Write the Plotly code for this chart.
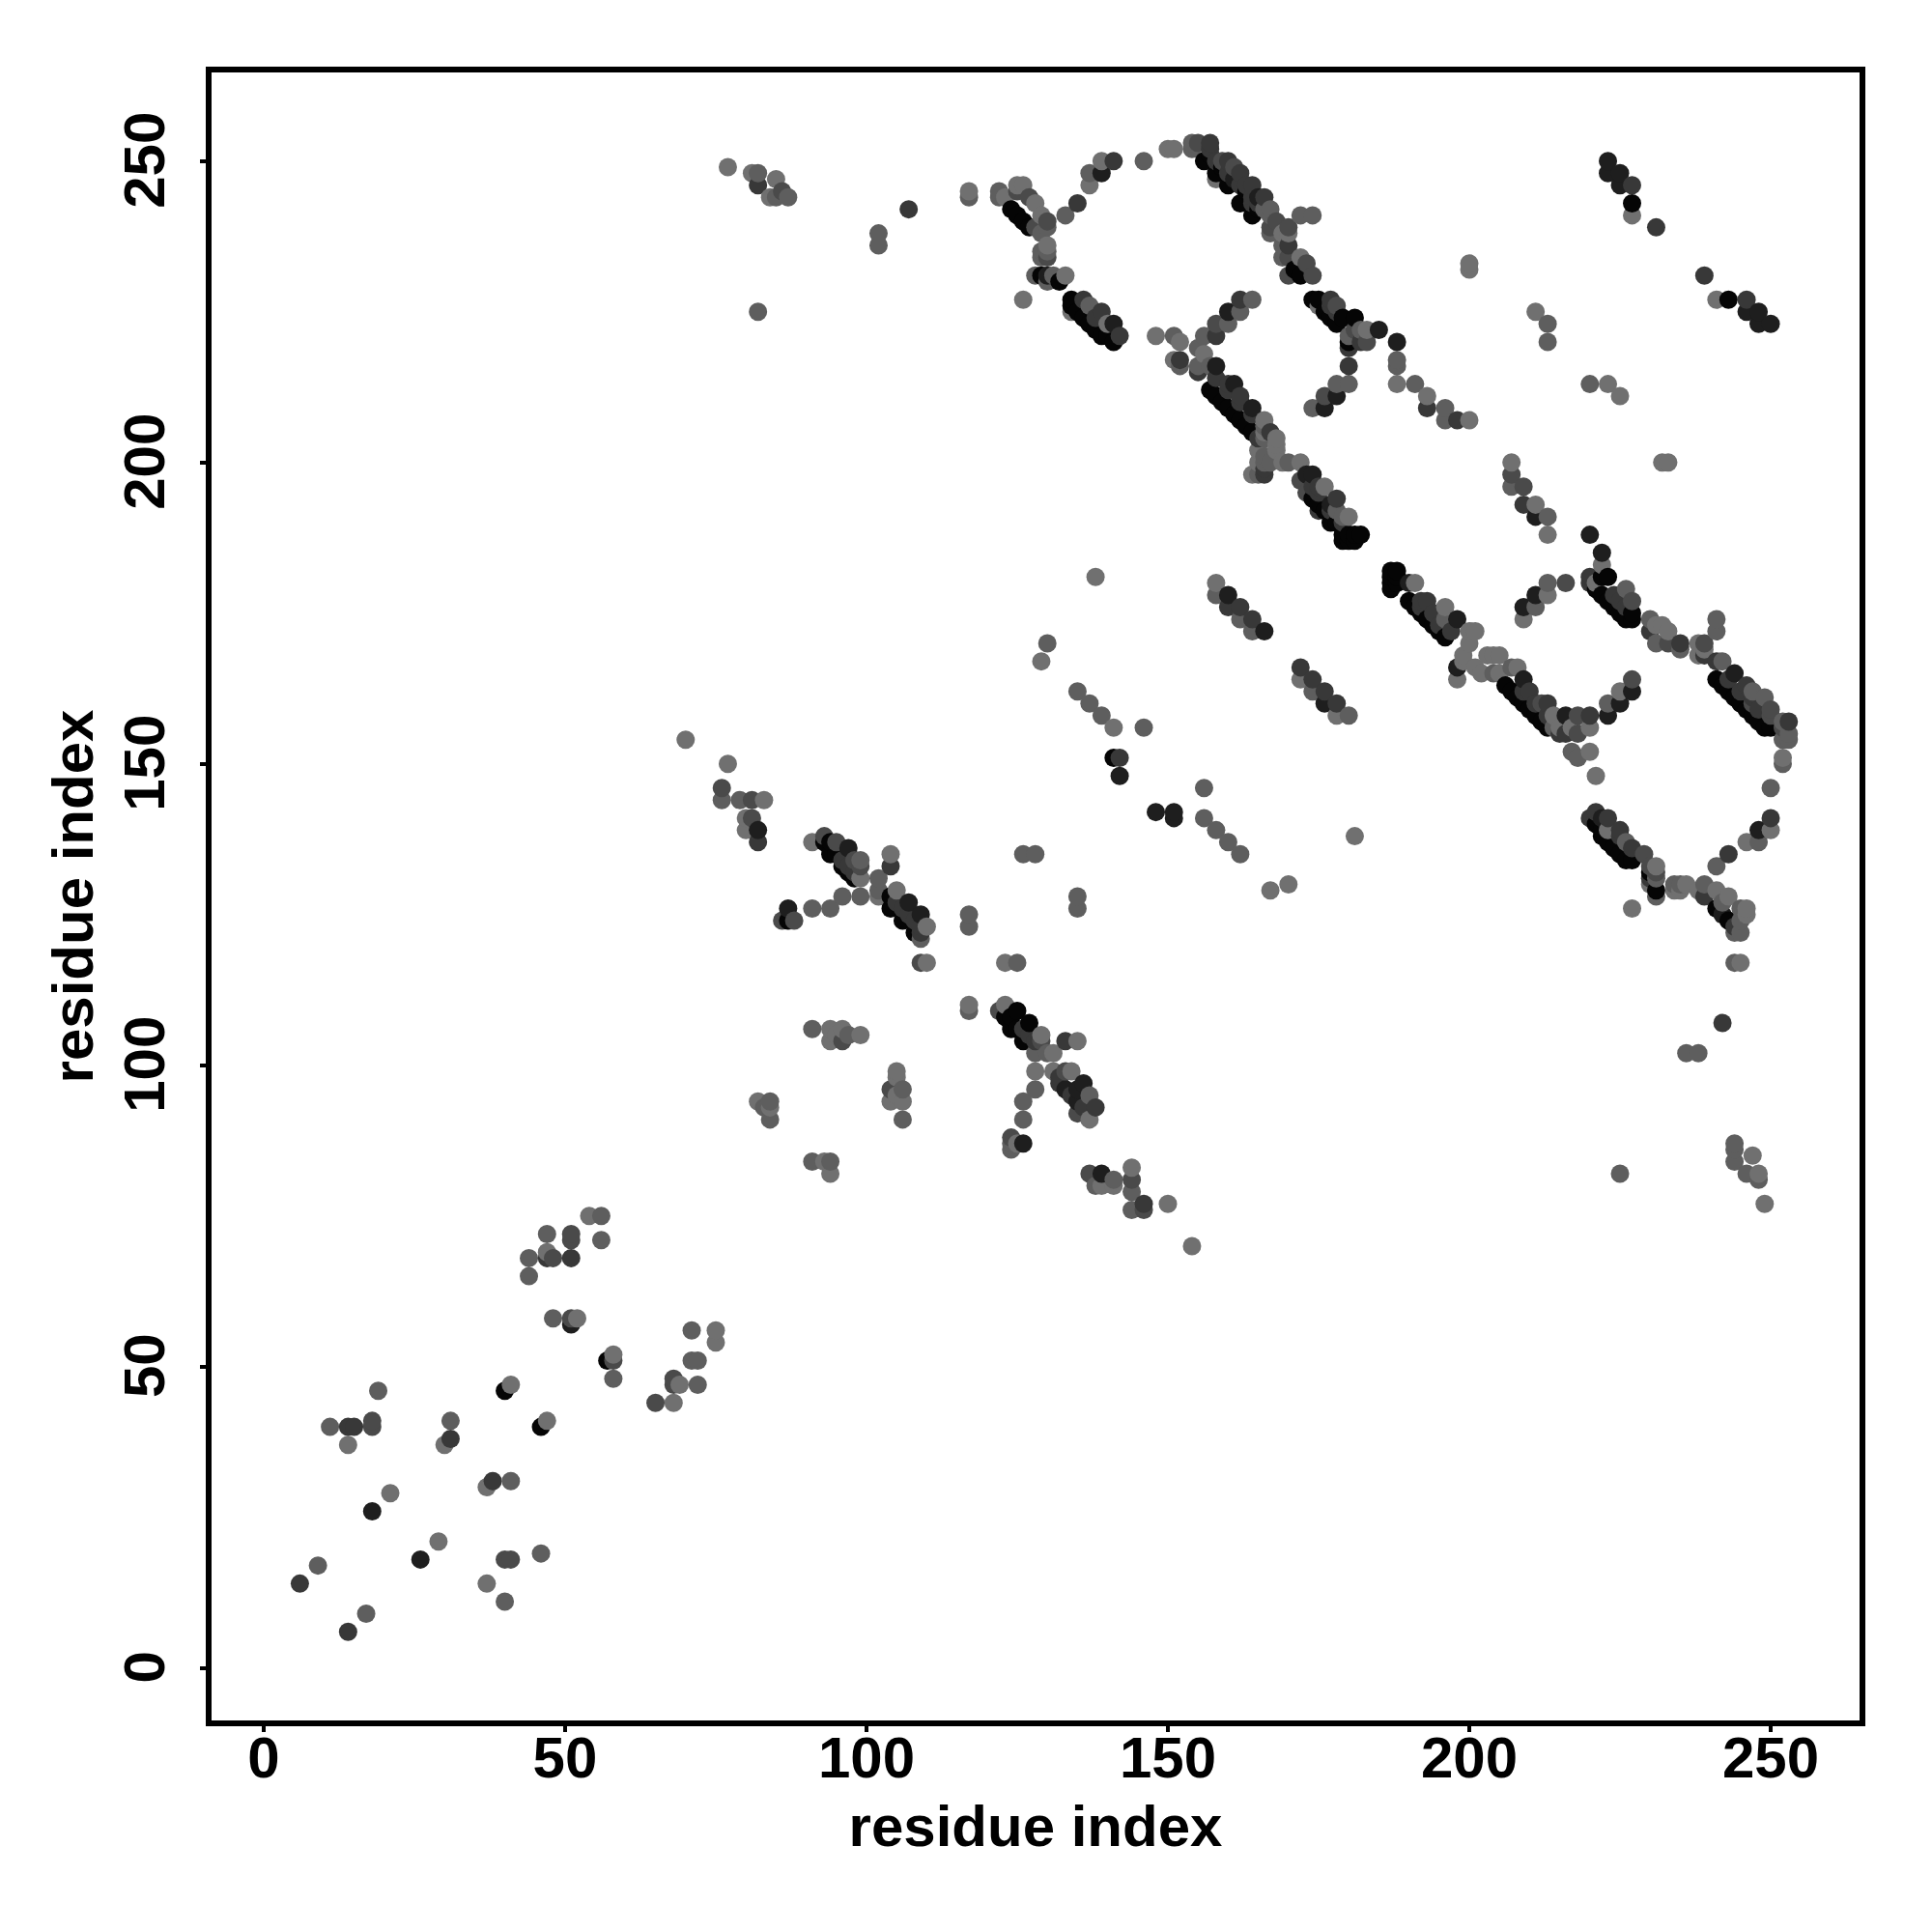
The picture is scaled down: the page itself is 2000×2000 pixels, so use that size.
import plotly.graph_objects as go

tick_values = [0, 50, 100, 150, 200, 250]
axis_label = "residue index"

light = [(37,14),(29,21),(21,29),(37,30),(30,37),(14,37),(54,75),(47,69),(75,56),(75,54),(69,47),(68,44),(47,41),(41,47),(58,52),(52,58),
(70,154),(77,150),(83,144),(80,141),(80,139),(91,137),(104,135),(99,131),(102,128),(110,123),(105,129),(110,117),(117,110),(123,117),(123,110),(129,105),(135,104),(131,99),(131,102),(94,106),(96,106),(99,105),(94,104),(95,105),(105,99),(105,98),(104,94),(106,94),(105,95),(82,94),(84,93),(93,84),(94,82),(125,87),(128,99),(137,91),(134,99),(139,80),(141,80),(144,83),(150,77),(154,70),
(77,249),(81,248),(85,247),(84,244),(117,245),(123,244),(125,246),(126,246),(128,243),(129,241),(130,236),(133,231),(126,227),(134,225),(140,223),(148,221),(137,246),(139,250),(151,252),(150,252),
(158,247),(169,238),(170,238),(172,234),(183,222),(175,226),(188,213),(152,220),(151,217),(156,218),(166,207),(168,204),(166,205),(168,203),(168,202),(165,202),(164,198),(169,200),(172,200),(165,200),(176,196),(180,191),(158,180),(191,180),(196,176),(200,172),(201,172),(200,170),(199,168),(198,164),(203,168),(204,168),(205,168),(202,165),(201,166),(199,167),(205,165),(208,166),(207,200),(193,211),(200,207),(211,193),(213,188),(214,158),(215,156),(217,156),(220,156),(225,162),(222,183),(213,178),(209,174),(221,180),(232,173),(231,173),(233,172),(238,170),(238,168),(239,169),(252,151),(250,139),(246,137),(223,139),(220,152),(221,148),(231,133),(230,130),(236,130),(235,129),(234,129),(238,129),(241,129),(243,128),(246,126),(246,125),(245,117),(227,126),(227,241),(241,227),(211,225),(223,213),(225,211),(232,200),(233,200),(200,233),(200,232),(138,181),(129,167),(141,156),(167,129),(170,130),(181,138),(172,164),(178,158),(247,85),(248,82),(249,77)]

mid = [(17,9),(9,17),(40,11),(41,31),(31,41),(11,40),(19,46),(58,48),(56,71),(56,75),(47,72),(44,68),(44,65),(48,58),(71,56),(46,19),(72,47),(71,51),(72,51),
(76,144),(79,144),(102,131),(96,128),(99,128),(94,126),(91,126),(102,129),(99,134),(109,121),(117,125),(117,123),(126,135),(128,135),(135,128),(135,126),(125,117),(117,109),(128,102),(130,102),(128,96),(126,94),(126,91),(124,87),(124,86),(91,106),(97,105),(106,96),(106,91),(84,94),(84,91),(83,93),(91,84),(94,84),(137,95),(141,81),(144,79),(144,76),(138,80),
(82,248),(85,244),(87,244),(102,238),(102,236),(82,225),(117,244),(122,245),(122,244),(130,239),(129,238),(129,235),(130,235),(129,234),(128,231),(131,231),(130,230),(133,241),(137,248),(146,250),(137,226),(154,253),(154,252),(167,242),(167,241),(166,242),(167,238),(172,241),(174,241),(169,236),(169,234),(180,221),(182,222),(188,217),(188,216),(178,213),(180,213),(174,209),(151,221),(152,216),(164,227),(162,225),(160,223),(156,221),(155,219),(155,216),(157,216),(166,206),(166,204),(166,201),(166,200),(165,198),(170,200),(167,200),(178,192),(179,191),(191,213),(196,209),(196,207),(207,196),(213,191),(211,176),(213,180),(196,174),(207,166),(204,165),(214,156),(217,152),(218,151),(223,160),(248,137),(250,146),(241,133),(226,179),(226,137),(230,174),(231,170),(235,169),(241,174),(241,172),(242,167),(247,162),(249,161),(252,157),(253,155),(252,154),(253,154),(252,150),(231,131),(231,128),(234,130),(235,130),(239,130),(242,127),(245,126),(245,124),(245,122),(244,122),(244,117),(213,223),(213,220),(220,213),(236,102),(238,102),(225,82),(244,87),(244,86),(244,84),(246,82),(248,81),(130,170),(135,162),(137,160),(139,158),(146,156),(156,146),(156,141),(158,139),(160,137),(162,135),(158,178),(162,174),(164,172),(174,162),(180,158)]

mid_dark = [(40,18),(41,18),(18,41),(18,40),(48,68),(51,72),(51,71),(58,51),(51,58),(65,44),(68,48),(68,47),(122,109),(76,146),(81,144),(81,141),(93,138),(95,137),(99,133),(129,104),(133,99),(96,104),(104,96),(124,88),(88,124),(86,124),(109,117),(137,82),(144,81),(146,76),(86,245),(128,239),(130,234),(155,253),(159,250),(161,249),(167,239),(170,239),(170,234),(170,231),(173,233),(174,231),(178,226),(176,211),(158,223),(172,197),(173,195),(207,198),(209,196),(216,180),(218,155),(227,164),(239,170),(233,170),(250,159),(227,177),(230,133),
(98,134),(135,92),(125,245),(127,244),(130,240),(168,240),(181,222),(183,220),(247,160),(250,158),(252,156),(229,135),(231,132),(212,160),(218,158)]

dark = [(14,6),(6,14),(38,31),(31,38),(14,40),(15,40),(47,68),(51,68),(82,137),(104,133),(133,104),(138,93),(109,122),(107,242),(82,246),(135,243),(142,221),(141,250),(136,227),(139,225),(138,224),(163,246),(157,253),(157,252),(170,236),(177,227),(177,226),(180,216),(180,219),(182,220),(178,225),(152,217),(162,227),(158,221),(155,215),(160,213),(162,211),(165,204),(166,199),(166,198),(175,192),(174,196),(175,195),(193,177),(192,177),(192,176),(195,173),(198,207),(193,209),(209,193),(160,176),(162,176),(164,174),(172,166),(174,164),(176,162),(178,160),(146,77),(142,151),(220,158),(220,180),(220,181),(210,162),(213,160),(215,155),(216,155),(223,141),(220,141),(221,142),(225,139),(225,138),(227,136),(235,170),(230,172),(194,175),(197,172),(239,168),(241,167),(246,163),(253,157),(250,141),(243,135),(239,128),(226,176),(230,131),(242,107),(244,123),(227,246),(231,239),(239,231),(246,227),(105,127),(106,126),(107,125),(108,124),(109,123),(136,93),(134,95),(132,97),(126,106),(127,105),(128,104),
(96,134),(97,133),(98,132),(158,250),(160,248),(162,246),(164,244),(158,214),(160,212),(162,210),(164,208),(177,192),(179,190),(209,162),(211,160),(213,158),(243,164),(245,162),(247,161),(248,159),(224,178),(225,177),
(160,250),(162,248),(164,246),(166,244),(165,243),(164,243),(132,98),(167,205),(175,196),(178,194)]

very_dark = [(26,18),(18,26),(51,57),(82,139),(97,136),(107,127),(109,125),(126,87),(136,97),(133,96),(135,94),(135,96),(139,82),(142,148),(141,223),(139,248),(165,244),(164,209),(158,216),(161,213),(178,211),(176,209),(160,225),(185,222),(188,220),(173,198),(174,198),(177,193),(211,191),(209,176),(211,178),(190,180),(160,178),(166,172),(176,160),(198,174),(198,166),(209,164),(216,158),(222,185),(220,188),(223,158),(225,160),(227,162),(244,165),(248,139),(222,141),(242,125),(223,248),(225,248),(225,246),(223,250),(248,225),(246,225),(248,223),(250,223),(151,141),(148,142),(151,142),(87,126),(130,231),(161,247)]

black = [(46,40),(40,46),(57,51),(94,137),(93,137),(94,135),(95,135),(96,133),(97,132),(98,131),(104,128),(104,126),(106,124),(108,122),(87,124),(125,109),(127,107),(123,108),(124,108),(124,106),(125,106),(126,104),(141,151),(124,242),(125,241),(126,240),(127,239),(132,230),(129,231),(134,227),(134,226),(135,225),(136,224),(137,223),(138,222),(139,221),(140,221),(141,220),(156,250),(158,248),(160,246),(162,243),(164,241),(157,251),(159,249),(163,245),(165,242),(172,231),(171,232),(174,227),(175,227),(176,225),(178,223),(179,224),(181,224),(180,220),(177,224),(157,212),(158,211),(159,210),(160,209),(161,208),(162,207),(163,206),(164,205),(177,190),(178,190),(179,188),(180,187),(179,187),(181,187),(182,188),(181,188),(180,188),(175,193),(176,192),(174,194),(187,182),(188,182),(187,181),(187,180),(187,179),(188,181),(188,180),(190,177),(191,176),(192,175),(193,174),(194,173),(195,172),(196,171),(206,163),(207,162),(208,161),(209,160),(210,159),(211,158),(212,157),(213,156),(241,164),(242,163),(243,162),(244,161),(245,160),(246,159),(247,158),(248,157),(249,156),(250,156),(222,181),(223,181),(222,178),(221,179),(223,177),(224,176),(225,175),(226,174),(227,174),(227,175),(221,140),(222,139),(222,138),(223,137),(224,136),(225,135),(226,134),(227,134),(227,243),(243,227),(230,132),(231,129),(241,126),(243,124)]

tones = [("#707070", light), ("#5e5e5e", mid), ("#4a4a4a", mid_dark), ("#383838", dark), ("#1e1e1e", very_dark), ("#050505", black)]

points = []
for colour, group in tones:
    for x, y in group:
        points.append((x, y, colour))
points.sort(key=lambda p: (p[0], p[1]))

fig = go.Figure(go.Scatter(
    x=[p[0] for p in points], y=[p[1] for p in points], mode="markers",
    marker=dict(size=19, color=[p[2] for p in points], line=dict(width=0)),
    hoverinfo="x+y", showlegend=False))

axis = dict(ticks="outside", ticklen=6, tickwidth=3.5, tickvals=tick_values,
            tickcolor="black", showgrid=False, zeroline=False, showline=True, linewidth=6,
            linecolor="black", mirror=True, tickfont=dict(size=60, color="black", weight="bold"))
title_font = dict(size=60, weight="bold", color="black")
fig.update_layout(
    width=2000, height=2000, autosize=False, paper_bgcolor="white", plot_bgcolor="white",
    margin=dict(l=211, r=83, t=67, b=227),
    font=dict(family="Liberation Sans, Arial, sans-serif", color="black"),
    xaxis=dict(axis, range=[-8.65, 264.74], ticklabelstandoff=-25,
               title=dict(text=axis_label, font=title_font, standoff=19)),
    yaxis=dict(axis, range=[-8.7, 264.7], tickangle=-90, ticklabelstandoff=13, ticklabelshift=8,
               title=dict(text=axis_label, font=title_font, standoff=2)),
)
fig.write_html("out.html")
